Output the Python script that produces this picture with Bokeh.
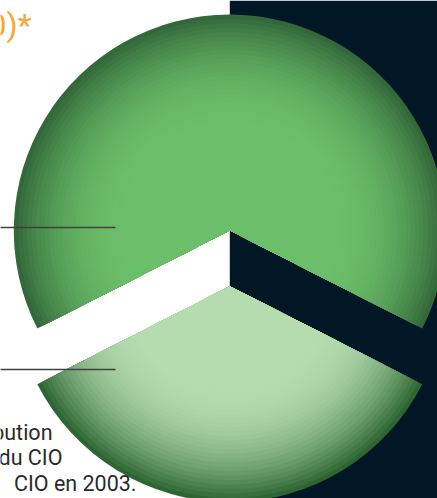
import numpy as np
from bokeh.plotting import figure
from bokeh.models import Range1d, BoxAnnotation, ColumnDataSource, GlobalInlineStyleSheet
from bokeh.core.properties import value
from bokeh.embed import file_html
from bokeh.resources import INLINE

# ---------------- data ----------------
categories = ["Part principale", "Autres revenus"]
shares = [65, 35]
title_tail = "0)*"
note_lines = ["bution", "s du CIO", "CIO en 2003."]

# ---------------- style / layout ----------------
W, H = 437, 498
CX, CY = 229.3, 240.15          # pie centre (data units == pixels)
R = 216.0
EXPLODE = 27.85
DARK_BG = "#021726"
edge_colors = ["#33683a", "#2d6632"]
inner_colors = ["#6cbf6a", "#b4dcaf"]


def hex2rgb(h):
    h = h.lstrip("#")
    return np.array([int(h[i:i + 2], 16) for i in (0, 2, 4)], dtype=float)


def rgb2hex(c):
    c = np.clip(np.round(c), 0, 255).astype(int)
    return "#%02x%02x%02x" % tuple(c)


p = figure(width=W, height=H, x_range=Range1d(0, W), y_range=Range1d(0, H),
           output_backend="svg", toolbar_location=None, min_border=0,
           background_fill_color="white", border_fill_color="white",
           outline_line_color=None)
p.axis.visible = False
p.grid.visible = False
p.stylesheets = [GlobalInlineStyleSheet(css="html, body { margin: 0 !important; padding: 0 !important; overflow: hidden; }")]

# dark panel to the right of the pie centre
p.add_layout(BoxAnnotation(left=CX, fill_color=DARK_BG, fill_alpha=1.0,
                           line_color=None, level="underlay"))

# pie slices (exploded), shaded with concentric layers
vals = np.array(shares, dtype=float)
fr = vals / vals.sum()
start0 = np.pi / 2 - np.pi * fr[0]
ends = start0 + 2 * np.pi * np.cumsum(fr)
starts = np.concatenate([[start0], ends[:-1]])

N = 28
rfs = np.linspace(1.0, 0.45, N)
for i, cat in enumerate(categories):
    mid = (starts[i] + ends[i]) / 2
    cx = CX + EXPLODE * np.cos(mid)
    cy = CY + EXPLODE * np.sin(mid)
    e = hex2rgb(edge_colors[i])
    c = hex2rgb(inner_colors[i])
    cols = []
    for rf in rfs:
        t = (rf - 0.45) / 0.55
        g = t ** 2.3
        cols.append(rgb2hex(c + (e - c) * g))
    src = ColumnDataSource(dict(x=[cx] * N, y=[cy] * N, r=list(R * rfs),
                                s=[starts[i]] * N, e=[ends[i]] * N, col=cols))
    p.wedge(x="x", y="y", radius="r", start_angle="s", end_angle="e",
            fill_color="col", line_color=None, source=src)

# leader lines toward labels (off to the left)
p.segment(x0=[-5, -5], y0=[271, 129], x1=[115, 115], y1=[271, 129],
          line_color="#404040", line_width=1.6)

# orange title tail
p.text(x=[31], y=[H - 24], text=[title_tail], text_align="right",
       text_baseline="alphabetic", text_font=value("Roboto"),
       text_font_size="32px", text_color="#f6a631")

# note lines at the bottom
p.text(x=[52, 62, 136], y=[H - 432, H - 457, H - 483], text=note_lines,
       text_align="right", text_baseline="alphabetic",
       text_font=value("Roboto"), text_font_size="21.5px", text_color="#2b2b2b")

open("out.html", "w").write(file_html(p, INLINE))
